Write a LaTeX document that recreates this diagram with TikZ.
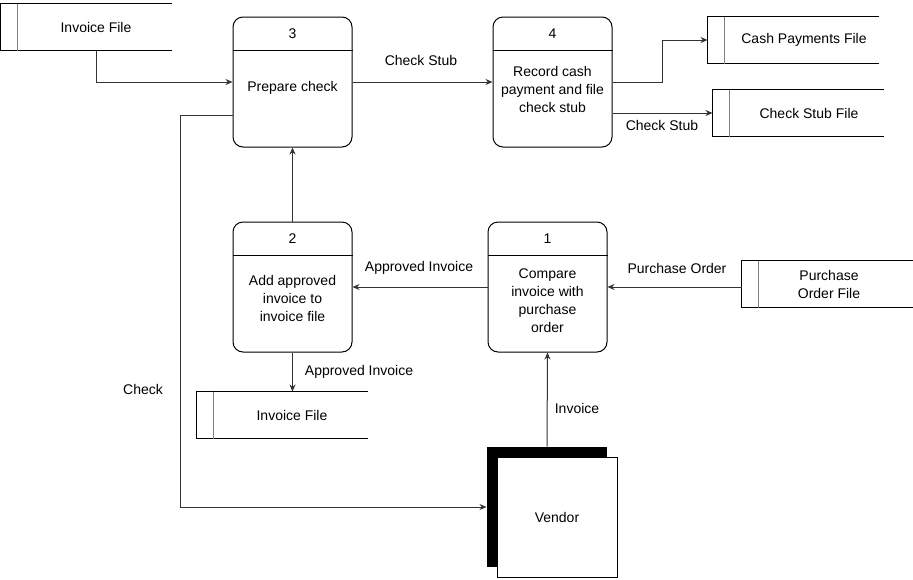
\documentclass[tikz,border=0pt]{standalone}
\usepackage{fontspec}
\setmainfont{Liberation Sans}
\usetikzlibrary{arrows.meta,calc}
\newcommand\drawstore[1]{%
  \draw (#1.north east) -- (#1.north west) -- (#1.south west) -- (#1.south east);
  \draw[black!50] ($(#1.north west)+(17,0)$) -- ($(#1.south west)+(17,0)$);}
\newcommand\procdiv[1]{%
  \draw ([yshift=-34pt]#1.north west) -- ([yshift=-34pt]#1.north east);}
\begin{document}
\begin{tikzpicture}[x=1pt,y=-1pt,line width=1pt,
  every node/.style={font=\fontsize{14}{18}\selectfont, align=center},
  proc/.style={draw, rounded corners=10pt, minimum width=119pt, minimum height=130pt, inner sep=0pt},
  store/.style={minimum width=170pt, minimum height=46pt, inner sep=0pt},
  flow/.style={draw=black!80, -{Stealth[length=7pt,width=6pt]}},
]
\useasboundingbox (0,0) rectangle (913,579);

% processes
\node[proc] (p3) at (292.5,82) {};
\node[proc] (p4) at (552.5,82) {};
\node[proc] (p2) at (292.5,287) {};
\node[proc] (p1) at (547.5,287) {};
\procdiv{p3}\procdiv{p4}\procdiv{p2}\procdiv{p1}
\node (n3) at (292.5,34) {3};
\node (n4) at (552.5,34) {4};
\node (n2) at (292.5,239) {2};
\node (n1) at (547.5,239) {1};
\node (t3) at (292.5,88) {Prepare check};
\node (t4) at (552.5,89) {Record cash\\payment and file\\check stub};
\node (t2) at (292.5,298) {Add approved\\invoice to\\invoice file};
\node (t1) at (547.5,301) {Compare\\invoice with\\purchase\\order};

% data stores
\node[store] (s1) at (86,27) {};
\node (s1t) at (96,27) {Invoice File};
\node[store] (cash) at (793,40) {};
\node (casht) at (804,40) {Cash Payments File};
\node[store] (csf) at (798,113) {};
\node (csft) at (809,113) {Check Stub File};
\node[store] (po) at (827,284) {};
\node (pot) at (829,284) {Purchase\\Order File};
\node[store] (s2) at (282,415) {};
\node (s2t) at (292,415) {Invoice File};
\drawstore{s1}\drawstore{cash}\drawstore{csf}\drawstore{po}\drawstore{s2}

% vendor
\node[fill=black, minimum width=120pt, minimum height=120pt, inner sep=0pt] (vsh) at (547,507) {};
\node[draw, fill=white, minimum width=120pt, minimum height=120pt, inner sep=0pt] (vendor) at (557,517) {Vendor};

% connectors
\coordinate (ck) at (180,507);
\draw[flow] (s1.south -| s1t) |- (p3.west);
\draw[flow] (p3.east) -- (p4.west);
\draw[flow] (p4.east) -- ++(50,0) |- (cash.west);
\draw[flow] (p4.east |- csf.west) -- (csf.west);
\draw[flow] (po.west |- p1.east) -- (p1.east);
\draw[flow] (p1.west) -- (p2.east);
\draw[flow] (p2.north) -- (p3.south);
\draw[flow] (p2.south) -- (p2.south |- s2.north);
\draw[flow] (vsh.north) -- (p1.south);
\draw[flow] ([yshift=-33pt]p3.west) -| (ck) -- (vsh.west);

% labels
\node (l1) at (421,60) {Check Stub};
\node (l2) at (662,125) {Check Stub};
\node (l3) at (419,268) {Approved Invoice};
\node (l4) at (677,268) {Purchase Order};
\node (l5) at (359,372) {Approved Invoice};
\node (l6) at (577,408) {Invoice};
\node (l7) at (143,389) {Check};
\end{tikzpicture}
\end{document}
